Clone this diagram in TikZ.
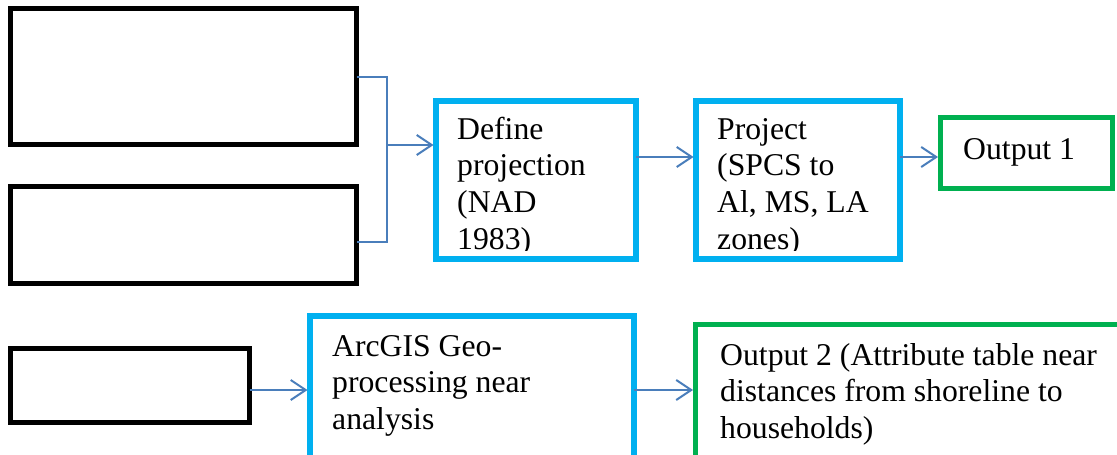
\documentclass[tikz,border=0pt]{standalone}
\usepackage{fontspec}
\setmainfont{Liberation Serif}
\usetikzlibrary{arrows.meta}

\definecolor{boxblue}{RGB}{0,176,240}
\definecolor{boxgreen}{RGB}{0,176,80}
\definecolor{linkblue}{RGB}{74,126,187}

\begin{document}
\begin{tikzpicture}[x=1pt,y=-1pt,
  box/.style={draw, rectangle, inner sep=0pt, outer sep=0pt, anchor=north west},
  inputbox/.style={box, line width=5pt, draw=black},
  stepbox/.style={box, line width=6pt, draw=boxblue},
  outbox/.style={box, line width=5pt, draw=boxgreen},
  txt/.style={inner sep=0pt, anchor=base west, font=\rmfamily\fontsize{31.7}{36.7}\selectfont},
  link/.style={draw=linkblue, line width=2pt},
  arrow/.style={link, -{Straight Barb[length=15pt, width=20pt, line width=2pt]}, shorten >=2.5pt}
]
\useasboundingbox (0,0) rectangle (1117,455);
\clip (0,0) rectangle (1117,455);

% input boxes on the left
\node[inputbox, minimum width=346pt, minimum height=136pt] (inA) at (10.5,8.5) {};
\node[inputbox, minimum width=346pt, minimum height=97pt]  (inB) at (10.5,186.5) {};
\node[inputbox, minimum width=239pt, minimum height=74pt]  (inC) at (10.5,348.5) {};

% processing steps
\node[stepbox, minimum width=200pt, minimum height=158pt] (defC) at (436,101) {};
\node[stepbox, minimum width=204pt, minimum height=158pt] (projD) at (696,101) {};
\node[stepbox, minimum width=324pt, minimum height=154pt] (near) at (310,316) {};

% outputs
\node[outbox, minimum width=172pt, minimum height=71pt] (outA) at (940.5,117.5) {};
\node[outbox, minimum width=434pt, minimum height=146pt] (outB) at (695.5,324.5) {};

% box texts (the tall step boxes cut off their last line)
\begin{scope}
  \clip (439,104) rectangle (633,250);
  \node[txt] (tDef) at (457,139) {\begin{tabular}[t]{@{}l@{}}Define\\projection\\(NAD\\1983)\end{tabular}};
\end{scope}
\begin{scope}
  \clip (699,104) rectangle (897,250);
  \node[txt] (tProj) at (717,139) {\begin{tabular}[t]{@{}l@{}}Project\\(SPCS to\\Al, MS, LA\\zones)\end{tabular}};
\end{scope}
\node[txt] (tOutA) at (963,159) {Output 1};
\node[txt] (tNear) at (332,356) {\begin{tabular}[t]{@{}l@{}}ArcGIS Geo-\\processing near\\analysis\end{tabular}};
\node[txt] (tOutB) at (720,365) {\begin{tabular}[t]{@{}l@{}}Output 2 (Attribute table near\\distances from shoreline to\\households)\end{tabular}};

% connectors
\coordinate (junc) at (387,145);
\draw[link] ([yshift=-0.5pt]inA.east) -| (junc) |- ([yshift=-7pt]inB.east);
\draw[arrow] (junc) -- (junc -| defC.west);

\coordinate (cOut) at ([yshift=23pt]defC.east);
\draw[arrow] (cOut) -- (cOut -| projD.west);
\coordinate (dOut) at ([yshift=23pt]projD.east);
\draw[arrow] (dOut) -- (dOut -| outA.west);

\coordinate (eOut) at ([yshift=-4.5pt]inC.east);
\draw[arrow] (eOut) -- (eOut -| near.west);
\coordinate (nOut) at (near.east |- eOut);
\draw[arrow] (nOut) -- (nOut -| outB.west);
\end{tikzpicture}
\end{document}
